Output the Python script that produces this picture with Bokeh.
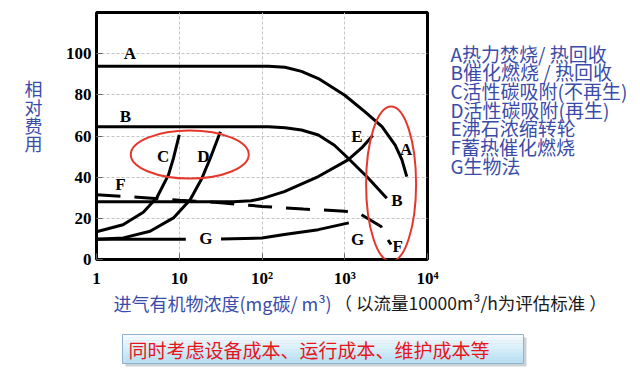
from bokeh.plotting import figure
from bokeh.models import Range1d, FixedTicker, LinearAxis
from bokeh.layouts import column
from bokeh.embed import file_html
from bokeh.resources import INLINE
from bokeh.core.properties import value

# ---------------- data ----------------
x_ticks = [1, 10, 100, 1000, 10000]
x_tick_labels = ["1", "10", "10²", "10³", "10⁴"]
y_ticks = [0, 20, 40, 60, 80, 100]

A_x = [1, 120, 190, 300, 480, 1000, 1760, 2820, 4070, 4900, 5620]
A_y = [93.9, 93.9, 93.4, 91.4, 87.9, 79.8, 71.7, 64.5, 55.6, 48.5, 40.3]

B_x = [1, 120, 190, 300, 480, 750, 1100, 1930, 3220]
B_y = [64.5, 64.5, 64.0, 62.9, 60.5, 55.5, 49.2, 39.5, 29.8]

C_x = [1, 2.09, 3.68, 5.37, 7.41, 8.51, 10.0]
C_y = [13.5, 16.9, 23.0, 30.1, 41.1, 49.2, 60.5]

D_x = [1, 2.11, 4.44, 8.51, 13.55, 18.8, 23.7, 31.4]
D_y = [9.8, 10.5, 13.7, 20.2, 29.0, 39.5, 49.2, 62.1]

E_x = [1, 45, 74, 100, 186, 479, 1096, 1600, 2180]
E_y = [28.0, 28.0, 28.5, 29.6, 33.0, 40.3, 48.4, 54.2, 60.3]

F_x = [1, 3.16, 10, 31.6, 100, 316, 1000, 1585, 2750, 3310, 3630]
F_y = [31.5, 30.2, 28.8, 27.6, 25.8, 24.5, 23.5, 21.8, 16.0, 9.7, 7.3]

G1_x = [1, 12]
G1_y = [9.8, 9.8]
G2_x = [32, 100, 186, 479, 1120]
G2_y = [10.0, 10.4, 12.1, 14.5, 17.8]

curve_label_x = [2.53, 2.24, 6.4, 19.6, 1406, 1.95, 20.9, 1432, 5500, 4260, 4370]
curve_label_y = [99.9, 69.4, 50.0, 50.0, 59.7, 36.5, 10.0, 9.5, 53.2, 28.9, 6.2]
curve_label_t = ["A", "B", "C", "D", "E", "F", "G", "G", "A", "B", "F"]

ellipse_x = [13.4, 3630]
ellipse_y = [51.0, 36.7]
ellipse_w = [118, 50]
ellipse_h = [48, 155]

legend_texts = ["A热力焚烧/ 热回收", "B催化燃烧 / 热回收", "C活性碳吸附(不再生)",
                "D活性碳吸附(再生)", "E沸石浓缩转轮", "F蓄热催化燃烧", "G生物法"]
legend_pos = [100.2, 91.1, 82.1, 73.0, 64.0, 54.9, 45.9]
y_title_chars = ["相", "对", "费", "用"]
y_title_pos = [83.2, 74.3, 65.4, 56.5]
x_title = "进气有机物浓度(mg碳/ m³)"
x_note = "（ 以流量10000m³/h为评估标准 ）"
bottom_note = "同时考虑设备成本、运行成本、维护成本等"

BLUE = "#3b4ca8"
CJK = "Noto Sans CJK SC"

# ---------------- main chart ----------------
W = 632
p = figure(width=W, height=290, x_axis_type="log",
           x_range=Range1d(1, 10000), y_range=Range1d(0, 120),
           output_backend="svg", toolbar_location=None,
           min_border_left=96, min_border_right=205,
           min_border_top=12, min_border_bottom=30)
p.frame_align = False
p.background_fill_color = "white"
p.border_fill_color = "white"
p.outline_line_color = "black"
p.outline_line_width = 3

p.xaxis.ticker = FixedTicker(ticks=x_ticks, minor_ticks=[])
p.xaxis.major_label_overrides = {t: s for t, s in zip(x_ticks, x_tick_labels)}
p.yaxis.ticker = FixedTicker(ticks=y_ticks, minor_ticks=[])
for ax in (p.xaxis, p.yaxis):
    ax.axis_line_color = None
    ax.major_tick_in = 6
    ax.major_tick_out = 0
    ax.major_tick_line_color = "#666666"
    ax.minor_tick_line_color = None
    ax.major_label_text_font = "Liberation Serif"
    ax.major_label_text_font_style = "bold"
    ax.major_label_text_font_size = "17px"
    ax.major_label_text_color = "black"
p.xaxis.major_label_standoff = 9
p.yaxis.major_label_standoff = 5

# y title as a second left axis (stacked characters)
ytitle_ax = LinearAxis(ticker=FixedTicker(ticks=y_title_pos, minor_ticks=[]),
                       major_label_overrides={v: c for v, c in zip(y_title_pos, y_title_chars)})
p.add_layout(ytitle_ax, "left")

# legend texts as a right axis
legend_ax = LinearAxis(ticker=FixedTicker(ticks=legend_pos, minor_ticks=[]),
                       major_label_overrides={v: t for v, t in zip(legend_pos, legend_texts)})
p.add_layout(legend_ax, "right")

for ax, size, standoff in ((ytitle_ax, "18px", 20), (legend_ax, "19px", 23)):
    ax.axis_line_color = None
    ax.major_tick_line_color = None
    ax.minor_tick_line_color = None
    ax.major_tick_in = 0
    ax.major_tick_out = 0
    ax.major_label_standoff = standoff
    ax.major_label_text_font = CJK
    ax.major_label_text_font_size = size
    ax.major_label_text_color = BLUE

p.grid.grid_line_color = "#c4c4c4"
p.grid.grid_line_dash = "3 2"
p.grid.grid_line_width = 1

lw = 3
p.line(A_x, A_y, line_color="black", line_width=lw)
p.line(B_x, B_y, line_color="black", line_width=lw)
p.line(C_x, C_y, line_color="black", line_width=lw)
p.line(D_x, D_y, line_color="black", line_width=lw)
p.line(E_x, E_y, line_color="black", line_width=lw)
p.line(F_x, F_y, line_color="black", line_width=lw, line_dash="24 14")
p.line(G1_x, G1_y, line_color="black", line_width=lw)
p.line(G2_x, G2_y, line_color="black", line_width=lw)

p.ellipse(x=ellipse_x, y=ellipse_y, width=ellipse_w, height=ellipse_h,
          width_units="screen", height_units="screen",
          fill_color=None, line_color="#e5382c", line_width=2)

p.text(x=curve_label_x, y=curve_label_y, text=curve_label_t,
       text_font=value("Liberation Serif"), text_font_style="bold",
       text_font_size="17px", text_align="center", text_baseline="middle",
       text_color="black")

# ---------------- bottom notes (pixel coordinates of the page) ----------------
top_h = 290
H2 = 369 - top_h
q = figure(width=W, height=H2, x_range=Range1d(0, W), y_range=Range1d(top_h + H2, top_h),
           output_backend="svg", toolbar_location=None,
           x_axis_location=None, y_axis_location=None, min_border=0)
q.frame_align = False
q.outline_line_color = None
q.grid.visible = False
q.background_fill_color = "white"
q.border_fill_color = "white"

q.text(x=[113], y=[302], text=[x_title], text_font=value(CJK), text_font_size="18px",
       text_color=BLUE, text_align="left", text_baseline="middle")
q.text(x=[334], y=[302], text=[x_note], text_font=value(CJK), text_font_size="17.5px",
       text_color="#1a1a1a", text_align="left", text_baseline="middle")

# box with shadow and a soft vertical gradient
bx0, bx1, by0, by1 = 122, 523, 334, 363
q.quad(left=[bx0 + 3], right=[bx1 + 3], top=[by0 + 3], bottom=[by1 + 3],
       fill_color="#9aa4ad", fill_alpha=0.5, line_color=None)
n = 10
c0 = (245, 251, 254)
c1 = (184, 225, 244)
for i in range(n):
    f = i / (n - 1)
    col = "#%02x%02x%02x" % tuple(int(c0[k] + (c1[k] - c0[k]) * f) for k in range(3))
    y0 = by0 + (by1 - by0) * i / n
    y1 = by0 + (by1 - by0) * (i + 1) / n
    q.quad(left=[bx0], right=[bx1], top=[y0], bottom=[y1], fill_color=col, line_color=None)
q.quad(left=[bx0], right=[bx1], top=[by0], bottom=[by1], fill_color=None,
       line_color="#8fb1cb", line_width=1)
q.text(x=[128], y=[349], text=[bottom_note], text_font=value(CJK), text_font_size="19px",
       text_color="#e8141b", text_align="left", text_baseline="middle")

layout = column(p, q, spacing=0)
open("out.html", "w").write(file_html(layout, INLINE))
